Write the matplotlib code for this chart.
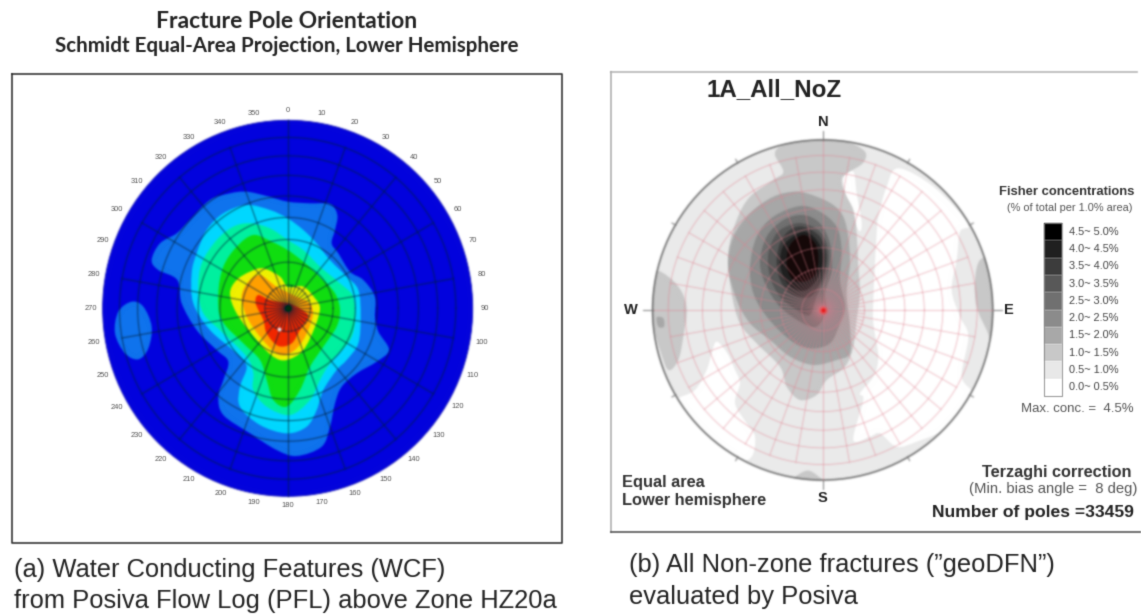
import numpy as np
import matplotlib
matplotlib.use('Agg')
import matplotlib.pyplot as plt
from matplotlib.path import Path
from matplotlib.patches import PathPatch, Ellipse

plt.rcParams['font.family'] = ['Liberation Sans', 'DejaVu Sans']

# contour outlines, x and y in crop units (3 per pixel)
wcf_azure = [(470,305),(530,318),(593,335),(660,340),(720,342),(742,375),(735,420),(725,460),(745,490),(780,545),
             (820,570),(855,620),(855,680),(865,725),(897,780),(860,815),(800,850),(755,890),(735,940),(720,1010),
             (695,1070),(620,1098),(560,1080),(480,1030),(400,975),(385,920),(400,870),(415,815),(380,780),(320,720),
             (275,640),(262,570),(205,540),(185,510),(210,460),(260,430),(300,390),(360,330),(420,310)]
wcf_azure_west = [(125,635),(160,650),(185,710),(175,775),(145,808),(105,790),(75,730),(85,665)]
wcf_cyan = [(470,345),(540,360),(593,385),(640,420),(680,460),(720,510),(770,560),(805,600),(812,680),(805,760),
            (770,810),(740,840),(700,900),(680,960),(650,1010),(590,1030),(510,1005),(450,950),(450,890),(470,830),
            (440,790),(360,720),(310,640),(305,550),(320,490),(350,420),(400,370)]
wcf_aqua = [(480,400),(540,415),(593,450),(640,480),(690,530),(750,580),(790,620),(795,690),(780,750),(720,820),
            (690,870),(660,930),(600,975),(530,950),(490,900),(490,850),(470,800),(400,730),(340,670),(325,600),
            (335,520),(380,450),(430,410)]
wcf_green = [(490,435),(545,455),(593,480),(640,515),(690,560),(735,610),(750,660),(740,710),(700,770),(660,830),
             (630,900),(590,950),(550,930),(530,870),(510,810),(460,760),(395,690),(385,610),(400,530),(440,470)]
wcf_yellow = [(520,535),(570,560),(593,590),(640,590),(675,625),(690,655),(675,710),(640,780),(590,810),(550,800),
              (500,750),(440,670),(420,610),(440,570),(480,545)]
wcf_orange = [(510,555),(560,590),(620,620),(660,640),(668,680),(640,750),(600,790),(560,790),(510,740),(470,680),
              (455,620),(475,575)]
wcf_red = [(505,615),(540,630),(593,640),(630,655),(655,680),(630,720),(605,760),(565,768),(530,730),(520,690),(497,640)]
wcf_colors = ['#0f73ee', '#00d8ff', '#00f0a0', '#10dd10', '#f0f000', '#ffa000', '#f02800']

dfn_white_sw = [(230,785),(262,820),(285,870),(300,910),(285,970),(320,1030),(345,1070),(335,1130),(290,1140),
                (200,1080),(130,1000),(110,960),(165,930),(200,870),(215,820)]
dfn_white_e = [(775,265),(880,320),(985,430),(960,455),(950,540),(935,630),(960,710),(985,770),(965,890),(1000,950),
               (930,1040),(830,1085),(770,1100),(720,1060),(690,1070),(640,1080),(670,960),(660,940),(700,890),
               (715,830),(700,730),(700,660),(705,550),(710,460),(715,410),(740,320)]
dfn_white_n = [(610,295),(640,275),(650,340),(665,430),(655,450),(625,370)]
dfn_1 = [(405,225),(420,200),(470,186),(548,180),(620,185),(675,215),(668,250),(620,280),(605,300),(615,340),(640,390),
         (650,460),(655,560),(660,640),(650,720),(640,800),(615,860),(560,900),(530,945),(480,960),(440,920),(420,860),
         (350,790),(300,730),(275,640),(265,520),(290,420),(330,350),(400,300),(430,275)]
dfn_1_west = [(45,580),(85,590),(125,635),(140,690),(130,770),(115,840),(85,870),(60,810),(42,750),(30,690)]
dfn_1_east = [(1020,540),(1005,600),(1010,680),(1040,750),(1062,790),(1075,660),(1062,540)]
dfn_1_south = [(460,1195),(500,1172),(530,1185),(548,1210),(460,1210)]
dfn_2 = [(470,335),(530,350),(580,375),(610,410),(625,470),(630,550),(620,640),(630,740),(630,820),(590,840),(520,855),
         (450,830),(390,780),(330,730),(290,660),(265,560),(280,470),(330,400),(400,350)]
dfn_2_west = [(50,712),(70,715),(72,740),(55,740)]
dfn_3 = [(480,378),(540,395),(590,440),(605,510),(600,600),(615,680),(600,730),(570,790),(510,805),(450,780),(380,710),
         (340,640),(330,560),(350,470),(400,410)]
dfn_4 = [(490,405),(540,430),(570,490),(575,570),(555,640),(560,690),(530,740),(480,725),(420,680),(380,620),(360,550),
         (380,470),(430,420)]
dfn_5 = [(490,430),(540,455),(565,510),(560,580),(530,650),(510,705),(470,690),(420,650),(390,590),(385,520),(410,460),(450,435)]
dfn_6 = [(490,440),(540,470),(560,530),(545,600),(510,650),(460,645),(425,610),(410,550),(420,490),(450,450)]
dfn_7 = [(490,455),(530,480),(550,530),(535,590),(500,630),(460,625),(430,590),(420,540),(435,490)]
dfn_8 = [(490,465),(525,490),(535,535),(525,585),(490,605),(455,595),(440,550),(450,495)]

conc_labels = ['4.5~ 5.0%', '4.0~ 4.5%', '3.5~ 4.0%', '3.0~ 3.5%', '2.5~ 3.0%',
               '2.0~ 2.5%', '1.5~ 2.0%', '1.0~ 1.5%', '0.5~ 1.0%', '0.0~ 0.5%']
conc_colors = ['#000000', '#202020', '#3c3c3c', '#585858', '#707070',
               '#8c8c8c', '#a8a8a8', '#c8c8c8', '#e8e8e8', '#ffffff']
az_labels = [str(a) for a in range(0, 360, 10)]


def outline(pts):
    # closed smooth curve through the read points
    p = np.array(pts, dtype=float)
    prev, nxt = np.roll(p, 1, axis=0), np.roll(p, -1, axis=0)
    nxt2 = np.roll(p, -2, axis=0)
    verts = [p[0]]
    codes = [Path.MOVETO]
    for i in range(len(p)):
        verts += [p[i] + (nxt[i]-prev[i])/6, nxt[i] - (nxt2[i]-p[i])/6, nxt[i]]
        codes += [Path.CURVE4]*3
    return Path(verts, codes)


def blur(sigma):
    n = int(3*sigma) + 1
    k = np.exp(-0.5*(np.arange(-n, n+1)/sigma)**2)
    k /= k.sum()
    def f(img, dpi):
        pad = n + 1
        a = np.pad(img, ((pad, pad), (pad, pad), (0, 0)))
        a[..., :3] *= a[..., 3:]
        for ax_i in (0, 1):
            a = np.apply_along_axis(lambda v: np.convolve(v, k, mode='same'), ax_i, a)
        a[..., :3] /= np.maximum(a[..., 3:], 1e-4)
        return np.clip(a, 0, 1), -pad, -pad
    return f


def dip_radius(dip):
    return np.sqrt(2)*np.sin(np.radians(dip)/2)


def graticule(ax, cx, cy, rx, ry, dips, spokes, inner, inner_dip, **kw):
    t = np.linspace(0, 2*np.pi, 240)
    for d in dips:
        r = dip_radius(d)
        ax.plot(cx + rx*r*np.cos(t), cy + ry*r*np.sin(t), **kw)
    for a in spokes:
        r = dip_radius(90 if a % 90 == 0 else 80)
        s, c = np.sin(np.radians(a)), np.cos(np.radians(a))
        ax.plot([cx, cx + rx*r*s], [cy, cy - ry*r*c], **kw)
    r = dip_radius(inner_dip)
    for a in inner:
        s, c = np.sin(np.radians(a)), np.cos(np.radians(a))
        ax.plot([cx, cx + rx*r*s], [cy, cy - ry*r*c], **kw)


fig = plt.figure(figsize=(11.41, 6.14), dpi=100, facecolor='white')
main = fig.add_axes([0, 0, 1, 1])
main.set_xlim(0, 1141)
main.set_ylim(614, 0)
main.axis('off')

# frames
main.plot([12, 562, 562, 12, 12], [74, 74, 543, 543, 74], color='#333333', lw=1.2)
main.plot([611, 1137], [72, 72], color='#b5b5b5', lw=1.2)
main.plot([611, 611], [72, 532], color='#b0b0b0', lw=1.2)
main.plot([611, 1141], [532, 532], color='#555555', lw=1.2)

# titles and captions
main.text(287, 21, 'Fracture Pole Orientation', ha='center', va='center', fontsize=16.5,
          fontweight='bold', family='Lato', color='#222222')
main.text(287, 46, 'Schmidt Equal-Area Projection, Lower Hemisphere', ha='center', va='center', fontsize=14.8,
          fontweight='bold', family='Lato', color='#222222')
main.text(14, 570, '(a) Water Conducting Features (WCF)', va='center', fontsize=18.4, color='#222222')
main.text(14, 601, 'from Posiva Flow Log (PFL) above Zone HZ20a', va='center', fontsize=18.4, color='#222222')
main.text(629, 565, '(b) All Non-zone fractures (”geoDFN”)', va='center', fontsize=18.4, color='#222222')
main.text(629, 597, 'evaluated by Posiva', va='center', fontsize=18.4, color='#222222')

# panel b annotations
main.text(707, 90, '1A_All_NoZ', va='center', fontsize=17.4, fontweight='bold', color='#222222')
main.text(823, 122, 'N', ha='center', va='center', fontsize=10.5, fontweight='bold', color='#222222')
main.text(822, 498, 'S', ha='center', va='center', fontsize=10.5, fontweight='bold', color='#222222')
main.text(631, 310, 'W', ha='center', va='center', fontsize=10.5, fontweight='bold', color='#222222')
main.text(1009, 310, 'E', ha='center', va='center', fontsize=10.5, fontweight='bold', color='#222222')
main.text(622, 483, 'Equal area', va='center', fontsize=11.8, fontweight='bold', color='#333333')
main.text(622, 500, 'Lower hemisphere', va='center', fontsize=11.8, fontweight='bold', color='#333333')
main.text(1131, 472, 'Terzaghi correction', ha='right', va='center', fontsize=11.7, fontweight='bold', color='#333333')
main.text(1137, 489, '(Min. bias angle =  8 deg)', ha='right', va='center', fontsize=10.7, color='#555555')
main.text(1134, 512, 'Number of poles =33459', ha='right', va='center', fontsize=12.6, fontweight='bold', color='#222222')
main.text(1067, 192, 'Fisher concentrations', ha='center', va='center', fontsize=9.4, fontweight='bold', color='#333333')
main.text(1070, 208, '(% of total per 1.0% area)', ha='center', va='center', fontsize=7.9, color='#555555')
main.text(1134, 409, 'Max. conc. =  4.5%', ha='right', va='center', fontsize=9.5, color='#555555')

# legend
cell = (396 - 223)/len(conc_labels)
for i, (lab, col) in enumerate(zip(conc_labels, conc_colors)):
    main.bar(1053, cell, width=18, bottom=223 + i*cell, color=col, linewidth=0)
    main.text(1069, 223 + (i + 0.5)*cell, lab, va='center', fontsize=7.9, color='#444444')
main.plot([1044, 1062, 1062, 1044, 1044], [223, 223, 396, 396, 223], color='#909090', lw=0.7)

# panel a disc, crop at (90,90) 400x430
ax_a = fig.add_axes([90/1141, 1 - 520/614, 400/1141, 430/614])
ax_a.set_xlim(0, 1200)
ax_a.set_ylim(1290, 0)
ax_a.axis('off')
cx, cy, rx, ry = 593, 655, 555, 564
disc = Ellipse((cx, cy), 2*rx, 2*ry, facecolor='#0303dd', edgecolor='#0000b0', lw=0.6)
ax_a.add_patch(disc)
ax_a.add_patch(PathPatch(outline(wcf_azure_west), facecolor=wcf_colors[0], lw=0))
for pts, col in zip([wcf_azure, wcf_cyan, wcf_aqua, wcf_green, wcf_yellow, wcf_orange, wcf_red], wcf_colors):
    ax_a.add_patch(PathPatch(outline(pts), facecolor=col, lw=0))
graticule(ax_a, cx, cy, rx, ry, range(10, 90, 10), range(0, 360, 20), range(10, 360, 20), 10,
          color='#00203a', lw=0.8, alpha=0.65)
ax_a.plot([cx], [cy], 'o', ms=3.5, color='#003010')
ax_a.plot([566], [716], 'o', ms=1.8, color='#ffe8e8')
for i, lab in enumerate(az_labels):
    a = np.radians(i*10)
    ax_a.text(cx + 590*np.sin(a), cy - 592*np.cos(a), lab, ha='center', va='center',
              fontsize=5.4, color='#555555', clip_on=False)

# panel b disc, crop at (640,80) 360x440
ax_b = fig.add_axes([640/1141, 1 - 520/614, 360/1141, 440/614])
ax_b.set_xlim(0, 1080)
ax_b.set_ylim(1320, 0)
ax_b.axis('off')
cx, cy, R = 548, 690, 510
rim = Ellipse((cx, cy), 2*R, 2*R, facecolor='#ebebeb', edgecolor='none')
ax_b.add_patch(rim)
patches = [(p, '#ffffff') for p in (dfn_white_sw, dfn_white_e, dfn_white_n)]
patches += [(p, conc_colors[7]) for p in (dfn_1_west, dfn_1_east, dfn_1_south, dfn_1)]
patches += [(dfn_2_west, conc_colors[6]), (dfn_2, conc_colors[6]), (dfn_3, conc_colors[5]), (dfn_4, conc_colors[4]),
            (dfn_5, conc_colors[3]), (dfn_6, conc_colors[2]), (dfn_7, conc_colors[1]), (dfn_8, '#160808')]
for pts, col in patches:
    pp = PathPatch(outline(pts), facecolor=col, lw=0)
    ax_b.add_patch(pp)
    pp.set_clip_path(rim)
graticule(ax_b, cx, cy, R, R, range(10, 90, 10), range(0, 360, 10), range(5, 360, 10), 20,
          color='#e0808e', lw=0.55, alpha=0.62)
ax_b.plot([cx], [cy], 'o', ms=6, color='#f04040', alpha=0.5, mew=0)
ax_b.plot([cx], [cy], 'o', ms=3, color='#e81818', mew=0)
ax_b.add_patch(Ellipse((cx, cy), 2*R, 2*R, facecolor='none', edgecolor='#666666', lw=1.1))
for a in range(0, 360, 30):
    s, c = np.sin(np.radians(a)), np.cos(np.radians(a))
    long_tick = 28 if a % 90 == 0 else 12
    ax_b.plot([cx + R*s, cx + (R + long_tick)*s], [cy - R*c, cy - (R + long_tick)*c], color='#777777', lw=0.7,
              clip_on=False)

# the scan is soft, so soften what was drawn
for ax, sig in ((ax_a, 1.0), (ax_b, 1.0), (main, 0.6)):
    for art in ax.lines + ax.patches + ax.texts:
        art.set_agg_filter(blur(sig if art not in ax.texts else 0.55))

fig.savefig('out.png', dpi=100, facecolor='white')
